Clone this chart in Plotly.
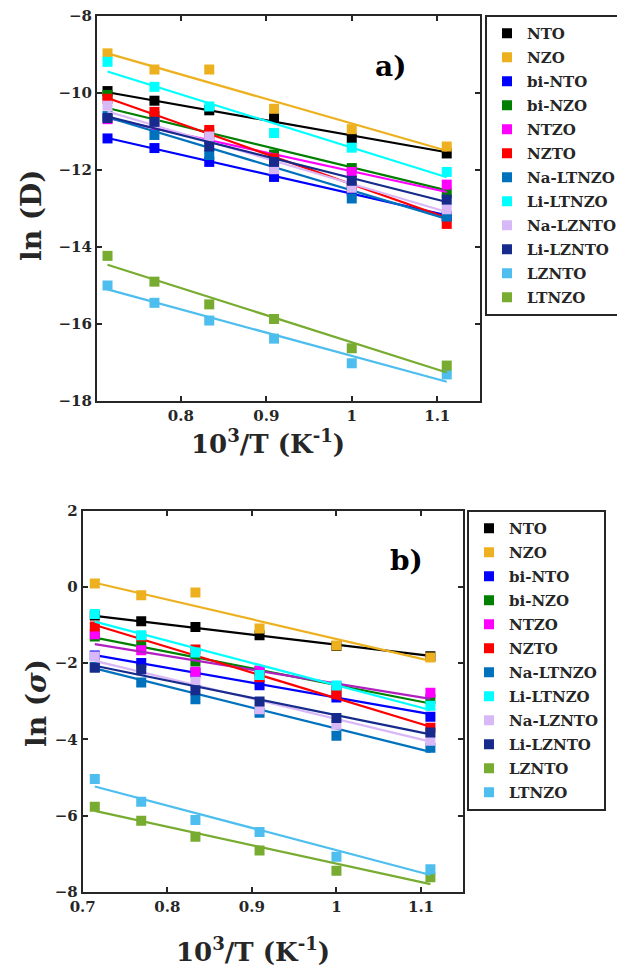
import plotly.graph_objects as go

# 10^3/T values (T = 1400, 1300, 1200, 1100, 1000, 900 K)
inv_T = [0.7143, 0.7692, 0.8333, 0.9091, 1.0, 1.1111]

names = ["NTO", "NZO", "bi-NTO", "bi-NZO", "NTZO", "NZTO",
         "Na-LTNZO", "Li-LTNZO", "Na-LZNTO", "Li-LZNTO", "LZNTO", "LTNZO"]

# ---- panel a: ln(D) ----
lnD_NTO      = [-9.95, -10.20, -10.45, -10.65, -11.17, -11.57]
lnD_NZO      = [-8.97, -9.39, -9.39, -10.41, -10.94, -11.39]
lnD_biNTO    = [-11.18, -11.43, -11.79, -12.18, -12.55, -13.20]
lnD_biNZO    = [-10.05, -10.60, -11.05, -11.60, -11.95, -12.60]
lnD_NTZO     = [-10.68, -10.85, -11.20, -11.70, -12.05, -12.38]
lnD_NZTO     = [-10.15, -10.49, -10.96, -11.70, -12.45, -13.40]
lnD_NaLTNZO  = [-10.60, -11.09, -11.61, -11.90, -12.74, -13.21]
lnD_LiLTNZO  = [-9.19, -9.84, -10.35, -11.04, -11.42, -12.05]
lnD_NaLZNTO  = [-10.33, -10.80, -11.13, -11.98, -12.46, -13.02]
lnD_LiLZNTO  = [-10.65, -10.75, -11.39, -11.79, -12.28, -12.77]
lnD_LZNTO    = [-15.00, -15.45, -15.91, -16.38, -17.02, -17.31]
lnD_LTNZO    = [-14.23, -14.90, -15.49, -15.87, -16.63, -17.08]

# fitted line end values at first / last 10^3/T
fitD_start = [-9.98, -8.97, -11.17, -10.39, -10.65, -10.13, -10.63, -9.44, -10.48, -10.61, -15.10, -14.46]
fitD_end   = [-11.54, -11.50, -13.18, -12.53, -12.57, -13.24, -13.27, -12.19, -13.09, -12.83, -17.50, -17.26]

# ---- panel b: ln(sigma) ----
lnS_NTO      = [-0.75, -0.90, -1.05, -1.27, -1.55, -1.82]
lnS_NZO      = [0.09, -0.22, -0.15, -1.09, -1.54, -1.85]
lnS_biNTO    = [-1.80, -2.00, -2.25, -2.58, -2.90, -3.41]
lnS_biNZO    = [-1.30, -1.55, -1.96, -2.20, -2.65, -2.94]
lnS_NTZO     = [-1.24, -1.66, -2.23, -2.20, -2.60, -2.78]
lnS_NZTO     = [-1.04, -1.30, -1.64, -2.37, -2.82, -3.70]
lnS_NaLTNZO  = [-2.10, -2.51, -2.95, -3.30, -3.91, -4.22]
lnS_LiLTNZO  = [-0.71, -1.27, -1.72, -2.31, -2.59, -3.12]
lnS_NaLZNTO  = [-1.83, -2.20, -2.49, -3.21, -3.62, -4.04]
lnS_LiLZNTO  = [-2.12, -2.16, -2.71, -3.01, -3.44, -3.82]
lnS_LZNTO    = [-5.77, -6.14, -6.56, -6.92, -7.45, -7.62]
lnS_LTNZO    = [-5.04, -5.64, -6.12, -6.43, -7.08, -7.41]

fitS_start = [-0.76, 0.11, -1.79, -1.33, -1.50, -1.00, -2.14, -0.91, -1.94, -2.07, -5.88, -5.24]
fitS_end   = [-1.81, -1.94, -3.34, -3.06, -2.94, -3.67, -4.33, -3.23, -4.06, -3.87, -7.80, -7.56]

xticks_a = [0.8, 0.9, 1.0, 1.1]
xticks_b = [0.7, 0.8, 0.9, 1.0, 1.1]
yticks_a = [-18, -16, -14, -12, -10, -8]
yticks_b = [-8, -6, -4, -2, 0, 2]

colors_a = ["#000000", "#EDB120", "#0000FF", "#008000", "#FF00FF", "#FF0000",
            "#0072BD", "#00FFFF", "#D9B8F7", "#162B8C", "#4DBEEE", "#77AC30"]
colors_b = ["#000000", "#EDB120", "#0000FF", "#008000", "#FF00FF", "#FF0000",
            "#0072BD", "#00FFFF", "#D9B8F7", "#162B8C", "#77AC30", "#4DBEEE"]
line_colors_b = list(colors_b)
line_colors_b[4] = "#B11FC0"

vals_a = [lnD_NTO, lnD_NZO, lnD_biNTO, lnD_biNZO, lnD_NTZO, lnD_NZTO,
          lnD_NaLTNZO, lnD_LiLTNZO, lnD_NaLZNTO, lnD_LiLZNTO, lnD_LZNTO, lnD_LTNZO]
vals_b = [lnS_NTO, lnS_NZO, lnS_biNTO, lnS_biNZO, lnS_NTZO, lnS_NZTO,
          lnS_NaLTNZO, lnS_LiLTNZO, lnS_NaLZNTO, lnS_LiLZNTO, lnS_LZNTO, lnS_LTNZO]

FONT = "DejaVu Serif"
DARK = "#262626"

fig = go.Figure()


def add_panel(vals, fs, fe, colors, lcolors, xa, ya, leg):
    for i, nm in enumerate(names):
        fig.add_trace(go.Scatter(
            x=inv_T, y=vals[i], mode="markers", name=nm,
            marker=dict(symbol="square", size=10, color=colors[i]),
            xaxis=xa, yaxis=ya, legend=leg, legendgroup=leg + nm))
        fig.add_trace(go.Scatter(
            x=[inv_T[0], inv_T[-1]], y=[fs[i], fe[i]], mode="lines",
            line=dict(color=lcolors[i], width=2.2), showlegend=False,
            xaxis=xa, yaxis=ya, hoverinfo="skip"))


add_panel(vals_a, fitD_start, fitD_end, colors_a, colors_a, "x", "y", "legend")
add_panel(vals_b, fitS_start, fitS_end, colors_b, line_colors_b, "x2", "y2", "legend2")

W, H = 625, 967
OFF = 8  # the page places the figure 8 px in from the window corner


def px(v):
    return (v - OFF) / W


def py(v):
    return 1 - (v - OFF) / H


axis_common = dict(showline=True, linecolor=DARK, linewidth=2, mirror="ticks",
                   ticks="inside", ticklen=5, tickwidth=1.5, tickcolor=DARK,
                   showgrid=False, zeroline=False, automargin=False,
                   ticklabeloverflow="allow",
                   tickfont=dict(family=FONT, size=15, color=DARK, weight="bold"))

title_font_x = dict(family=FONT, size=26, color=DARK, weight="bold")
title_font_y = dict(family=FONT, size=28, color=DARK, weight="bold")
legend_font = dict(family=FONT, size=15, color=DARK, weight="bold")

fig.update_layout(
    width=W, height=H,
    margin=dict(l=0, r=0, t=0, b=0, pad=0, autoexpand=False),
    paper_bgcolor="white", plot_bgcolor="white",
    xaxis=dict(domain=[px(97), px(480)], anchor="y", range=[0.702, 1.15],
               tickvals=xticks_a, ticktext=["0.8", "0.9", "1", "1.1"],
               **axis_common),
    yaxis=dict(domain=[py(401), py(16)], anchor="x", range=[-18, -8],
               tickvals=yticks_a, **axis_common),
    xaxis2=dict(domain=[px(82.7), px(463.3)], anchor="y2", range=[0.7, 1.15],
                tickvals=xticks_b, ticktext=["0.7", "0.8", "0.9", "1", "1.1"],
                **axis_common),
    yaxis2=dict(domain=[py(891.7), py(510.7)], anchor="x2", range=[-8, 2],
                tickvals=yticks_b, **axis_common),
    legend=dict(x=px(485), y=py(15), xanchor="left", yanchor="top",
                bordercolor=DARK, borderwidth=2, bgcolor="white",
                tracegroupgap=1.5, font=legend_font),
    legend2=dict(x=px(467), y=py(510), xanchor="left", yanchor="top",
                 bordercolor=DARK, borderwidth=2, bgcolor="white",
                 tracegroupgap=1.5, font=legend_font),
    annotations=[
        dict(text="a)", x=px(390), y=py(67), xref="paper", yref="paper",
             showarrow=False, xanchor="center", yanchor="middle",
             font=dict(family=FONT, size=28, color="black", weight="bold")),
        dict(text="b)", x=px(406), y=py(560), xref="paper", yref="paper",
             showarrow=False, xanchor="center", yanchor="middle",
             font=dict(family=FONT, size=28, color="black", weight="bold")),
        dict(text="ln (D)", x=px(31), y=py(215), xref="paper", yref="paper",
             showarrow=False, textangle=-90, xanchor="center", yanchor="middle",
             font=title_font_y),
        dict(text="ln (<i>σ</i>)", x=px(36), y=py(703), xref="paper", yref="paper",
             showarrow=False, textangle=-90, xanchor="center", yanchor="middle",
             font=title_font_y),
        dict(text="10<sup>3</sup>/T (K<sup>-1</sup>)", x=px(268), y=py(442),
             xref="paper", yref="paper", showarrow=False,
             xanchor="center", yanchor="middle", font=title_font_x),
        dict(text="10<sup>3</sup>/T (K<sup>-1</sup>)", x=px(253), y=py(950),
             xref="paper", yref="paper", showarrow=False,
             xanchor="center", yanchor="middle", font=title_font_x),
    ],
)

fig.write_html("out.html")
